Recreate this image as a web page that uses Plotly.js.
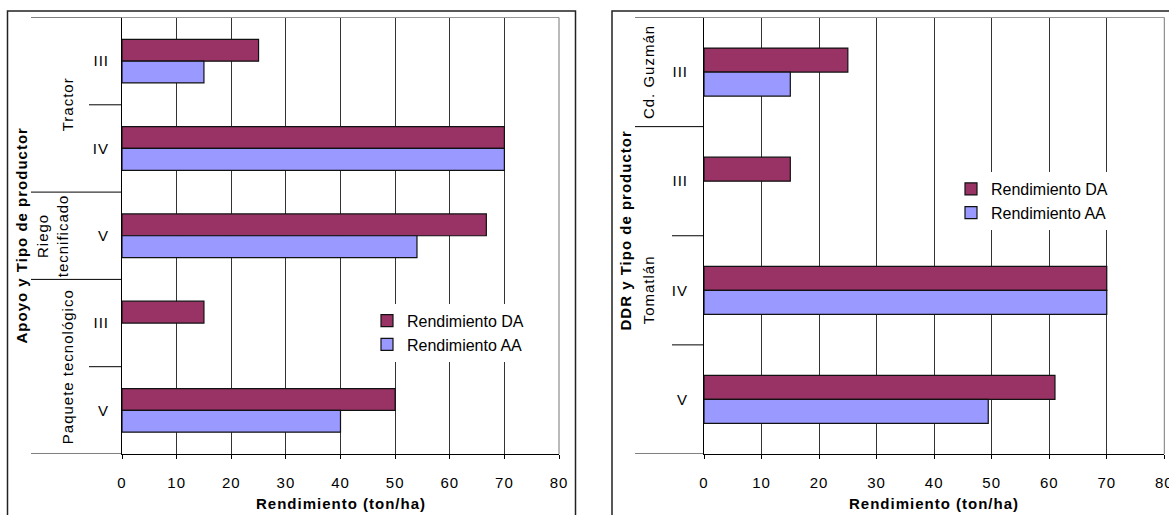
<!DOCTYPE html>
<html>
<head>
<meta charset="utf-8">
<script src="https://cdn.plot.ly/plotly-3.0.1.min.js"></script>
<style>
  html, body { margin: 0; padding: 0; background: #ffffff; }
  #chart { width: 1169px; height: 515px; }
  #chart text { letter-spacing: 1px; }
  #chart g[class*="legend"] text { letter-spacing: 0px; }
</style>
</head>
<body>
<div id="chart"></div>
<script>
// ---------------- DATA ----------------
// Left chart: Apoyo y Tipo de productor (top to bottom)
const leftGroups = ['Tractor', 'Tractor', 'Riego<br>tecnificado', 'Paquete tecnológico', 'Paquete tecnológico'];
const leftTypes = ['III', 'IV', 'V', 'III', 'V'];
const leftDA = [25, 70, 66.7, 15, 50];
const leftAA = [15, 70, 54, null, 40];

// Right chart: DDR y Tipo de productor (top to bottom)
const rightGroups = ['Cd. Guzmán', 'Tomatlán', 'Tomatlán', 'Tomatlán'];
const rightTypes = ['III', 'III', 'IV', 'V'];
const rightDA = [25, 15, 70, 61];
const rightAA = [15, null, 70, 49.4];

const seriesNames = ['Rendimiento DA', 'Rendimiento AA'];
const seriesColors = ['#993366', '#9999FF'];

const xTicks = [0, 10, 20, 30, 40, 50, 60, 70, 80];
const xTitle = 'Rendimiento (ton/ha)';
const leftYTitle = 'Apoyo y Tipo de productor';
const rightYTitle = 'DDR y Tipo de productor';

// ---------------- LAYOUT HELPERS ----------------
const W = 1169, H = 515;
const px = v => v / W;
const py = v => 1 - v / H;
const FONT = 'Liberation Sans, Arial, sans-serif';

const leftIdx = leftTypes.map((_, i) => i);
const rightIdx = rightTypes.map((_, i) => i);

function bars(da, aa, idx, xa, ya, w, legend) {
  return [da, aa].map((vals, s) => ({
    type: 'bar', orientation: 'h',
    x: vals, y: idx, xaxis: xa, yaxis: ya,
    name: seriesNames[s], legend: legend,
    width: w, offset: s === 0 ? -w : 0,
    marker: { color: seriesColors[s], line: { color: '#111111', width: 1.2 } },
    hoverinfo: 'x+name'
  }));
}

const data = [
  ...bars(leftDA, leftAA, leftIdx, 'x', 'y', 0.25, 'legend'),
  ...bars(rightDA, rightAA, rightIdx, 'x2', 'y2', 0.22, 'legend2')
];

function xAxis(domain, anchor) {
  return {
    domain: domain, anchor: anchor, range: [0, 80],
    tickvals: xTicks, ticks: 'outside', ticklen: 4, tickcolor: '#000',
    showgrid: true, gridcolor: '#333333', gridwidth: 1,
    zeroline: false, showline: true, linecolor: '#000', linewidth: 1,
    tickfont: { family: FONT, size: 15, color: '#000' },
    ticklabelstandoff: 11, ticklabeloverflow: 'allow', fixedrange: true
  };
}
function yAxis(domain, anchor, types, standoff) {
  return {
    domain: domain, anchor: anchor, range: [types.length - 0.5, -0.5],
    tickvals: types.map((_, i) => i), ticktext: types,
    ticks: '', showgrid: false, zeroline: false,
    showline: true, linecolor: '#000', linewidth: 1,
    tickfont: { family: FONT, size: 15, color: '#000' },
    ticklabelstandoff: standoff, fixedrange: true
  };
}

const yDom = [py(454), py(17.5)];

// separators & group labels
function groupDecor(groups, yref, longX, shortX, axisX, labelX) {
  const shapes = [], anns = [];
  const n = groups.length;
  [-0.5, n - 0.5].forEach(b => shapes.push({
    type: 'line', xref: 'paper', yref: yref, x0: px(longX), x1: px(axisX), y0: b, y1: b,
    line: { color: '#000', width: 1 }
  }));
  for (let i = 0; i < n - 1; i++) {
    const isGroupEdge = groups[i] !== groups[i + 1];
    shapes.push({
      type: 'line', xref: 'paper', yref: yref,
      x0: px(isGroupEdge ? longX : shortX), x1: px(axisX), y0: i + 0.5, y1: i + 0.5,
      line: { color: '#000', width: 1 }
    });
  }
  let start = 0;
  for (let i = 1; i <= n; i++) {
    if (i === n || groups[i] !== groups[start]) {
      const lines = groups[start].split('<br>').length;
      anns.push({
        text: groups[start], xref: 'paper', yref: yref,
        x: px(labelX[lines - 1]), y: (start + i - 1) / 2,
        xanchor: 'center', yanchor: 'middle', textangle: -90, showarrow: false,
        font: { family: FONT, size: 15, color: '#000' }
      });
      start = i;
    }
  }
  return { shapes, anns };
}

const leftDecor = groupDecor(leftGroups, 'y', 31, 89, 122, [68, 53]);
const rightDecor = groupDecor(rightGroups, 'y2', 635, 672, 704, [648, 640]);

const panelShapes = [
  { type: 'rect', xref: 'paper', yref: 'paper', x0: px(7.5), x1: px(575.5), y0: -0.1, y1: py(11),
    line: { color: '#222', width: 1.5 }, fillcolor: 'rgba(0,0,0,0)', layer: 'below' },
  { type: 'rect', xref: 'paper', yref: 'paper', x0: px(612), x1: 1.05, y0: -0.1, y1: py(11),
    line: { color: '#222', width: 1.5 }, fillcolor: 'rgba(0,0,0,0)', layer: 'below' },
  { type: 'line', xref: 'x domain', yref: 'y domain', x0: 0, x1: 1, y0: 1, y1: 1,
    line: { color: '#999999', width: 1 } },
  { type: 'line', xref: 'x2 domain', yref: 'y2 domain', x0: 0, x1: 1, y0: 1, y1: 1,
    line: { color: '#999999', width: 1 } },
  // right edge of plot areas (80 gridline)
  { type: 'line', xref: 'x domain', yref: 'y domain', x0: 1, x1: 1, y0: 0, y1: 1,
    line: { color: '#777777', width: 1 } },
  { type: 'line', xref: 'x2 domain', yref: 'y2 domain', x0: 1, x1: 1, y0: 0, y1: 1,
    line: { color: '#777777', width: 1 } }
];

const titleAnns = [
  { text: '<b>' + leftYTitle + '</b>', xref: 'paper', yref: 'paper', x: px(21), y: py(235),
    textangle: -90, showarrow: false, xanchor: 'center', yanchor: 'middle',
    font: { family: FONT, size: 15, color: '#000' } },
  { text: '<b>' + rightYTitle + '</b>', xref: 'paper', yref: 'paper', x: px(625), y: py(231),
    textangle: -90, showarrow: false, xanchor: 'center', yanchor: 'middle',
    font: { family: FONT, size: 15, color: '#000' } },
  { text: '<b>' + xTitle + '</b>', xref: 'x domain', yref: 'paper', x: 0.5, y: py(503),
    showarrow: false, xanchor: 'center', yanchor: 'middle',
    font: { family: FONT, size: 15, color: '#000' } },
  { text: '<b>' + xTitle + '</b>', xref: 'x2 domain', yref: 'paper', x: 0.5, y: py(503),
    showarrow: false, xanchor: 'center', yanchor: 'middle',
    font: { family: FONT, size: 15, color: '#000' } }
];

const legendBase = {
  bgcolor: '#ffffff', borderwidth: 0, traceorder: 'normal',
  font: { family: FONT, size: 16, color: '#000' },
  xanchor: 'left', yanchor: 'middle', itemclick: false, itemdoubleclick: false
};

const layout = {
  width: W, height: H,
  margin: { l: 0, r: 0, t: 0, b: 0 },
  paper_bgcolor: '#ffffff', plot_bgcolor: '#ffffff',
  barmode: 'group',
  showlegend: true,
  font: { family: FONT, size: 15, color: '#000' },
  xaxis: xAxis([px(122), px(559)], 'y'),
  yaxis: yAxis(yDom, 'x', leftTypes, 9),
  xaxis2: xAxis([px(704), px(1164.3)], 'y2'),
  yaxis2: yAxis(yDom, 'x2', rightTypes, 12),
  legend: Object.assign({}, legendBase, { x: px(367), y: py(332.7) }),
  legend2: Object.assign({}, legendBase, { x: px(951), y: py(201) }),
  shapes: [...panelShapes, ...leftDecor.shapes, ...rightDecor.shapes],
  annotations: [...titleAnns, ...leftDecor.anns, ...rightDecor.anns]
};

Plotly.newPlot('chart', data, layout, { displayModeBar: false, staticPlot: true });
</script>
</body>
</html>
